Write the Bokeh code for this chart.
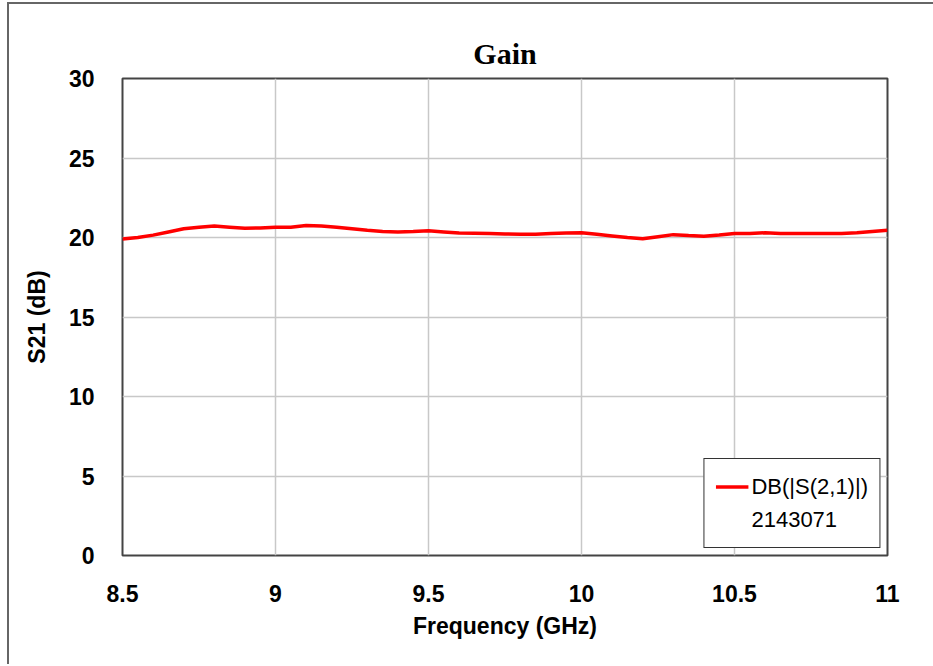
from bokeh.plotting import figure
from bokeh.models import Legend, LegendItem, FixedTicker, Range1d
from bokeh.embed import file_html
from bokeh.resources import INLINE

freq = [8.5, 8.55, 8.6, 8.65, 8.7, 8.75, 8.8, 8.85, 8.9, 8.95,
        9.0, 9.05, 9.1, 9.15, 9.2, 9.25, 9.3, 9.35, 9.4, 9.45,
        9.5, 9.55, 9.6, 9.65, 9.7, 9.75, 9.8, 9.85, 9.9, 9.95,
        10.0, 10.05, 10.1, 10.15, 10.2, 10.25, 10.3, 10.35, 10.4, 10.45,
        10.5, 10.55, 10.6, 10.65, 10.7, 10.75, 10.8, 10.85, 10.9, 10.95, 11.0]
s21_db = [19.9, 20.0, 20.15, 20.35, 20.55, 20.65, 20.72, 20.65, 20.58, 20.6,
          20.65, 20.65, 20.75, 20.72, 20.65, 20.55, 20.45, 20.38, 20.35, 20.38,
          20.42, 20.35, 20.28, 20.27, 20.25, 20.22, 20.2, 20.2, 20.25, 20.28,
          20.3, 20.2, 20.1, 20.0, 19.92, 20.05, 20.18, 20.12, 20.08, 20.15,
          20.25, 20.25, 20.3, 20.25, 20.25, 20.25, 20.25, 20.25, 20.3, 20.38, 20.45]
x_ticks = [8.5, 9, 9.5, 10, 10.5, 11]
y_ticks = [0, 5, 10, 15, 20, 25, 30]
x_tick_labels = {8.5: "8.5", 9: "9", 9.5: "9.5", 10: "10", 10.5: "10.5", 11: "11"}
series_name = "DB(|S(2,1)|)"
series_id = "2143071"

SANS = "Liberation Sans, Arial, sans-serif"

p = figure(width=924, height=660, output_backend="svg", toolbar_location=None,
           frame_width=765, frame_height=477,
           x_range=Range1d(8.5, 11), y_range=Range1d(0, 30),
           title="Gain")
p.min_border_left = 113
p.min_border_right = 46
p.min_border_top = 74
p.min_border_bottom = 109
p.background_fill_color = "white"
p.border_fill_color = "white"
p.outline_line_color = "#444444"
p.outline_line_width = 2
p.styles = {"border-left": "2px solid #666666", "border-top": "2px solid #666666",
            "margin-left": "7px", "margin-top": "2px"}

p.title.align = "center"
p.title.text_font = "Liberation Serif, Times New Roman, serif"
p.title.text_font_size = "30px"
p.title.text_font_style = "bold"
p.title.text_color = "black"
p.title.standoff = 17

r = p.line(freq, s21_db, line_color="#ff0000", line_width=3.5)
r_blank = p.line([], [], line_alpha=0)

for ax in (p.xaxis[0], p.yaxis[0]):
    ax.axis_line_color = None
    ax.major_tick_line_color = None
    ax.minor_tick_line_color = None
    ax.major_label_text_font = SANS
    ax.major_label_text_font_style = "bold"
    ax.major_label_text_font_size = "23px"
    ax.major_label_text_color = "black"
    ax.axis_label_text_font = SANS
    ax.axis_label_text_font_style = "bold"
    ax.axis_label_text_font_size = "23px"
    ax.axis_label_text_color = "black"

p.xaxis.ticker = FixedTicker(ticks=x_ticks)
p.xaxis.major_label_overrides = x_tick_labels
p.yaxis.ticker = FixedTicker(ticks=y_ticks)
p.xaxis.axis_label = "Frequency (GHz)"
p.yaxis.axis_label = "S21 (dB)"
p.xaxis.major_label_standoff = 23
p.xaxis.axis_label_standoff = 8
p.yaxis.major_label_standoff = 22
p.yaxis.axis_label_standoff = 16

p.xgrid.grid_line_color = "#c8c8c8"
p.ygrid.grid_line_color = "#c8c8c8"
p.xgrid.grid_line_width = 1.5
p.ygrid.grid_line_width = 1.5

legend = Legend(items=[LegendItem(label=series_name, renderers=[r]),
                       LegendItem(label=series_id, renderers=[r_blank])],
                location="bottom_right")
legend.label_text_font = SANS
legend.label_text_font_size = "22px"
legend.label_text_color = "black"
legend.border_line_color = "#333333"
legend.border_line_alpha = 1.0
legend.border_line_width = 1.5
legend.background_fill_alpha = 1.0
legend.glyph_width = 33
legend.glyph_height = 33
legend.label_height = 33
legend.margin = 7
legend.padding = 11
legend.spacing = 0
legend.label_standoff = 3
p.add_layout(legend)

open("out.html", "w").write(file_html(p, INLINE))
